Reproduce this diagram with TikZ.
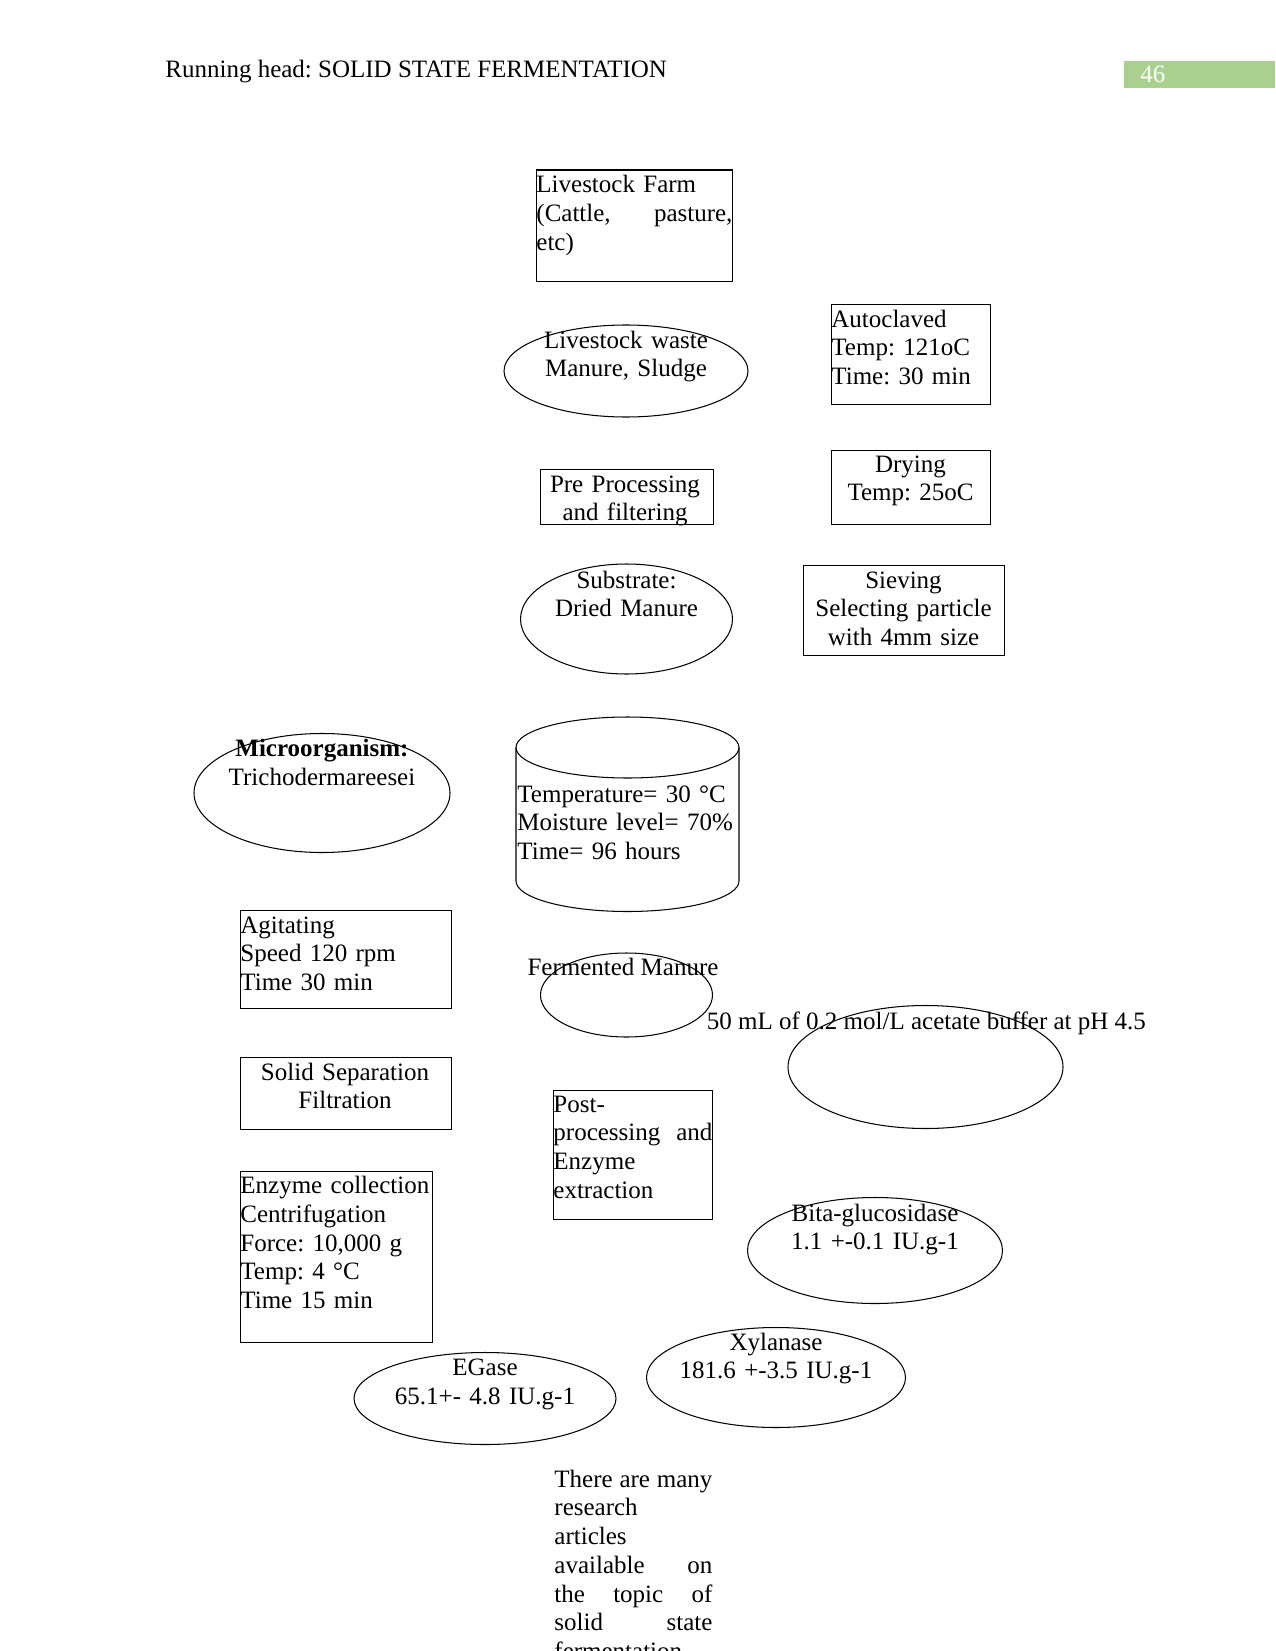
\documentclass[tikz,border=0pt]{standalone}
\usepackage{fontspec}
\setmainfont{Liberation Serif}
\usetikzlibrary{shapes.geometric}
\definecolor{headgreen}{RGB}{169,208,142}
\newcommand{\pxu}{0.48pt}

\begin{document}
\begin{tikzpicture}[
  x=0.48pt, y=-0.48pt,
  box/.style  = {draw, line width=0.6pt, inner sep=0pt, anchor=north west},
  oval/.style = {draw, ellipse, line width=0.5pt, inner sep=0pt},
  txt/.style  = {inner sep=0pt, font=\fontsize{12}{13.8}\selectfont\frenchspacing},
  ltxt/.style = {txt, anchor=base west, align=left, text width=#1*\pxu},
  ctxt/.style = {txt, anchor=base, align=center, text width=#1*\pxu},
]
\clip (0,0) rectangle (1275,1651);
\useasboundingbox (0,0) rectangle (1275,1651);

% ── Running head ──────────────────────────────────────────────────────────────
\node[txt, anchor=base west] (head) at (165,78) {Running head: SOLID STATE FERMENTATION};
\node[fill=headgreen, anchor=north west, inner sep=0pt,
      minimum width=151*\pxu, minimum height=27*\pxu] (pagebox) at (1124,61) {};
\node[txt, anchor=base west, text=white] (pagenum) at (1140,83) {46};

% ── Boxes ─────────────────────────────────────────────────────────────────────
\foreach \nm/\x/\y/\w/\h in {farm/536/169.5/196/111.5, auto/831/304/159/100,
                              pre/540/468.5/173/55.5, dry/831/449.5/159/74.5,
                              sieve/803/565/201/90, agit/240/909.5/210.5/98,
                              solid/240/1057/210.5/71.5, post/553/1089.5/159/129.5,
                              coll/240/1171/191.5/171}
  \node[box, minimum width=\w*\pxu, minimum height=\h*\pxu] (\nm) at (\x,\y) {};

% ── Ovals ─────────────────────────────────────────────────────────────────────
\foreach \nm/\x/\y/\w/\h in {waste/626/371/244/92, sub/626.5/619/212/110,
                              micro/322/793/256/119, ferm/626.5/995/172/84,
                              buffer/925.5/1067/275/123, bita/875/1250.5/255/106,
                              xyl/776/1377.5/259/100, egase/485/1398.5/262/92}
  \node[oval, minimum width=\w*\pxu, minimum height=\h*\pxu] (\nm) at (\x,\y) {};

% ── Fermenter (cylinder) ──────────────────────────────────────────────────────
\coordinate (cyltop) at (627.5,747.5);
\coordinate (cylbl) at (516,881);
\draw[line width=0.5pt] (cyltop) ellipse [x radius=111.5*\pxu, y radius=30.5*\pxu];
\draw[line width=0.5pt] (516,747.5) -- (cylbl)
  arc [start angle=180, end angle=360, x radius=111.5*\pxu, y radius=30.5*\pxu]
  -- (739,747.5);

% ── Texts ─────────────────────────────────────────────────────────────────────
\node[ltxt=196] (farmtxt) at (536,193) {Livestock Farm\\(Cattle,\hfill pasture,\\etc)};
\node[ctxt=244] (wastetxt) at (626,348) {Livestock waste\\Manure, Sludge};
\node[ltxt=159] (autotxt) at (831,327) {Autoclaved\\Temp: 121oC\\Time: 30 min};
\node[ctxt=173] (pretxt) at (625,492) {Pre Processing\\and filtering};
\node[ctxt=159] (drytxt) at (910.5,472) {Drying\\Temp: 25oC};
\node[ctxt=212] (subtxt) at (626.5,588) {Substrate:\\Dried Manure};
\node[ctxt=201] (sievetxt) at (903.5,588) {Sieving\\Selecting particle\\with 4mm size};
\node[ctxt=256] (microtxt) at (322,756.5) {\textbf{Microorganism:}\\Trichodermareesei};
\node[ltxt=223] (cyltxt) at (517,802) {Temperature= 30 °C\\Moisture level= 70\%\\Time= 96 hours};
\node[ltxt=210.5] (agittxt) at (240,933) {Agitating\\Speed 120 rpm\\Time 30 min};
\node[txt, anchor=base] (fermtxt) at (623,975.5) {Fermented Manure};
\node[txt, anchor=base west] (buffertxt) at (706.5,1029) {50 mL of 0.2 mol/L acetate buffer at pH 4.5};
\node[ctxt=210.5] (solidtxt) at (345,1080) {Solid Separation\\Filtration};
\node[ltxt=159] (posttxt) at (553,1112) {Post-\\processing\hfill and\\Enzyme\\extraction};
\node[ltxt=191.5] (colltxt) at (240,1193.5)
  {Enzyme collection\\Centrifugation\\Force: 10,000 g\\Temp: 4 °C\\Time 15 min};
\node[ctxt=255] (bitatxt) at (875,1221) {Bita-glucosidase\\1.1 +-0.1 IU.g-1};
\node[ctxt=259] (xyltxt) at (776,1350) {Xylanase\\181.6 +-3.5 IU.g-1};
\node[ctxt=262] (egasetxt) at (485,1375.5) {EGase\\65.1+- 4.8 IU.g-1};
\node[ltxt=158] (paratxt) at (554,1487)
  {There\hfill are\hfill many\\research\\articles\\available\hfill on\\the\hfill topic\hfill of\\solid\hfill state\\fermentation};

\end{tikzpicture}
\end{document}
